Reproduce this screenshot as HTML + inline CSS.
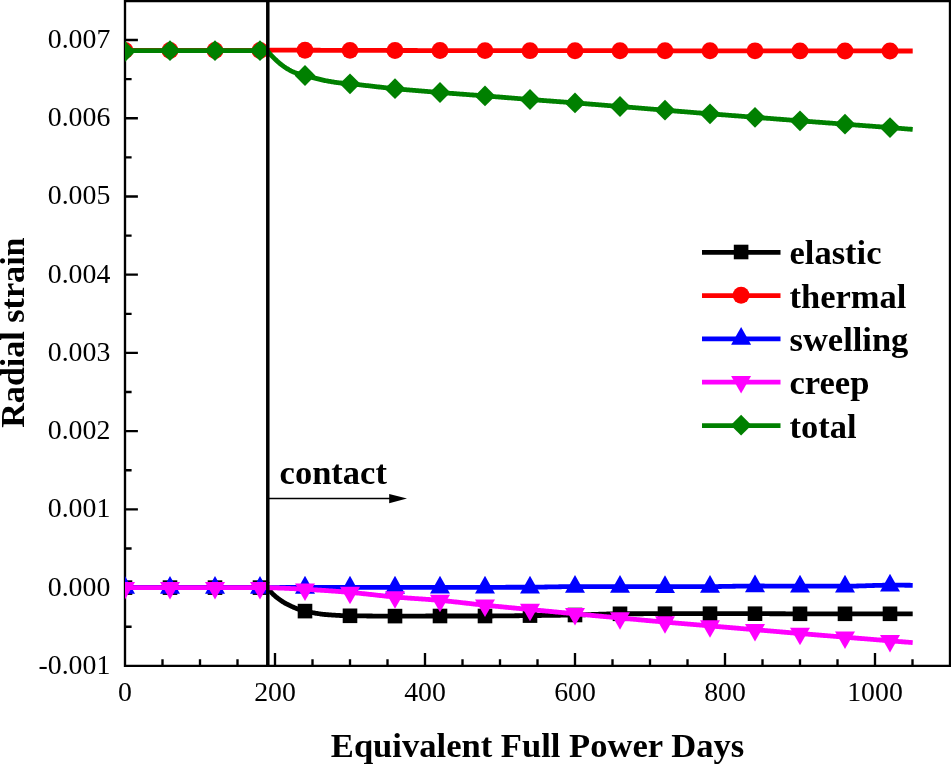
<!DOCTYPE html>
<html lang="en">
<head>
<meta charset="utf-8">
<title>Radial strain vs Equivalent Full Power Days</title>
<style>
html,body{margin:0;padding:0;background:#ffffff;}
body{width:951px;height:764px;overflow:hidden;}
svg{display:block;}
</style>
</head>
<body>
<svg width="951" height="764" viewBox="0 0 951 764">
<rect x="0" y="0" width="951" height="764" fill="#ffffff"/>
<defs><clipPath id="plotclip"><rect x="125" y="0" width="825" height="665.85"/></clipPath></defs>
<g fill="none" stroke="#000000" stroke-width="2.35" stroke-linecap="butt">
<path d="M125 1.15 L950 1.15 L950 665.85 L125 665.85 Z" stroke-linejoin="miter"/>
<path d="M162.5 665.85 V659.25 M200 665.85 V659.25 M237.5 665.85 V659.25 M275 665.85 V652.95 M312.5 665.85 V659.25 M350 665.85 V659.25 M387.5 665.85 V659.25 M425 665.85 V652.95 M462.5 665.85 V659.25 M500 665.85 V659.25 M537.5 665.85 V659.25 M575 665.85 V652.95 M612.5 665.85 V659.25 M650 665.85 V659.25 M687.5 665.85 V659.25 M725 665.85 V652.95 M762.5 665.85 V659.25 M800 665.85 V659.25 M837.5 665.85 V659.25 M875 665.85 V652.95 M912.5 665.85 V659.25 M125 626.73 H131.6 M125 587.61 H137.9 M125 548.5 H131.6 M125 509.38 H137.9 M125 470.27 H131.6 M125 431.15 H137.9 M125 392.04 H131.6 M125 352.92 H137.9 M125 313.81 H131.6 M125 274.69 H137.9 M125 235.57 H131.6 M125 196.46 H137.9 M125 157.35 H131.6 M125 118.23 H137.9 M125 79.11 H131.6 M125 40 H137.9"/>
</g>
<line x1="268" y1="498.6" x2="392" y2="498.6" stroke="#000" stroke-width="1.5"/>
<path d="M407 498.6 L389.2 494 L389.2 503.2 Z" fill="#000"/>
<g clip-path="url(#plotclip)">
<path d="M125 587.61 L126 587.61 L127 587.61 L128 587.61 L129 587.61 L130 587.61 L131 587.61 L132 587.61 L133 587.61 L134 587.61 L135 587.61 L136 587.61 L137 587.61 L138 587.61 L139 587.61 L140 587.61 L141 587.61 L142 587.61 L143 587.61 L144 587.61 L145 587.61 L146 587.61 L147 587.61 L148 587.61 L149 587.61 L150 587.61 L151 587.61 L152 587.61 L153 587.61 L154 587.61 L155 587.61 L156 587.61 L157 587.61 L158 587.61 L159 587.61 L160 587.61 L161 587.61 L162 587.61 L163 587.61 L164 587.61 L165 587.61 L166 587.61 L167 587.61 L168 587.61 L169 587.61 L170 587.61 L171 587.61 L172 587.61 L173 587.61 L174 587.61 L175 587.61 L176 587.61 L177 587.61 L178 587.61 L179 587.61 L180 587.61 L181 587.61 L182 587.61 L183 587.61 L184 587.61 L185 587.61 L186 587.61 L187 587.61 L188 587.61 L189 587.61 L190 587.61 L191 587.61 L192 587.61 L193 587.61 L194 587.61 L195 587.61 L196 587.61 L197 587.61 L198 587.61 L199 587.61 L200 587.61 L201 587.61 L202 587.61 L203 587.61 L204 587.61 L205 587.61 L206 587.61 L207 587.61 L208 587.61 L209 587.61 L210 587.61 L211 587.61 L212 587.61 L213 587.61 L214 587.61 L215 587.61 L216 587.61 L217 587.61 L218 587.61 L219 587.61 L220 587.61 L221 587.61 L222 587.61 L223 587.61 L224 587.61 L225 587.61 L226 587.61 L227 587.61 L228 587.61 L229 587.61 L230 587.61 L231 587.61 L232 587.61 L233 587.61 L234 587.61 L235 587.61 L236 587.61 L237 587.61 L238 587.61 L239 587.61 L240 587.61 L241 587.61 L242 587.61 L243 587.61 L244 587.61 L245 587.61 L246 587.61 L247 587.61 L248 587.61 L249 587.61 L250 587.61 L251 587.61 L252 587.61 L253 587.61 L254 587.61 L255 587.61 L256 587.61 L257 587.61 L258 587.61 L259 587.61 L259.6 587.61 L260 587.61 L261 587.61 L262 587.61 L263 587.61 L264 587.61 L265 587.61 L266 587.61 L267 587.61 L268 588.75 L269 589.87 L269.3 590.2 L270 590.97 L271 592.06 L272 593.14 L273 594.15 L273.8 594.9 L274 595.08 L275 595.95 L276 596.8 L277 597.61 L278 598.4 L279 599.15 L280 599.88 L281 600.58 L282 601.24 L283 601.88 L283.2 602 L284 602.48 L285 603.06 L286 603.62 L287 604.15 L288 604.67 L289 605.17 L290 605.65 L291 606.12 L292 606.58 L292.7 606.9 L293 607.03 L294 607.47 L295 607.9 L296 608.31 L297 608.7 L298 609.06 L298.4 609.2 L299 609.4 L300 609.73 L301 610.04 L302 610.34 L303 610.61 L304 610.87 L305 611.1 L306 611.32 L307 611.53 L308 611.74 L309 611.95 L310 612.15 L311 612.35 L312 612.55 L313 612.74 L314 612.92 L315 613.1 L316 613.27 L317 613.44 L318 613.6 L319 613.75 L320 613.9 L321 614.04 L322 614.17 L323 614.29 L324 614.4 L325 614.5 L326 614.59 L327 614.68 L327.3 614.7 L328 614.75 L329 614.82 L330 614.9 L331 614.97 L332 615.03 L333 615.1 L334 615.16 L335 615.22 L336 615.28 L337 615.34 L338 615.39 L339 615.44 L340 615.49 L341 615.54 L342 615.58 L343 615.62 L344 615.66 L345 615.69 L346 615.72 L347 615.74 L348 615.77 L349 615.79 L350 615.8 L351 615.81 L352 615.83 L353 615.84 L354 615.85 L355 615.86 L356 615.87 L357 615.88 L358 615.89 L359 615.9 L360 615.92 L361 615.93 L362 615.94 L363 615.94 L364 615.95 L365 615.96 L366 615.97 L367 615.98 L368 615.99 L369 616 L370 616 L371 616.01 L372 616.02 L373 616.03 L374 616.03 L375 616.04 L376 616.04 L377 616.05 L378 616.05 L379 616.06 L380 616.06 L381 616.07 L382 616.07 L383 616.08 L384 616.08 L385 616.08 L386 616.09 L387 616.09 L388 616.09 L389 616.09 L390 616.1 L391 616.1 L392 616.1 L393 616.1 L394 616.1 L395 616.1 L396 616.1 L397 616.1 L398 616.1 L399 616.1 L400 616.1 L401 616.1 L402 616.09 L403 616.09 L404 616.09 L405 616.09 L406 616.08 L407 616.08 L408 616.08 L409 616.08 L410 616.07 L411 616.07 L412 616.07 L413 616.06 L414 616.06 L415 616.06 L416 616.05 L417 616.05 L418 616.05 L419 616.05 L420 616.04 L421 616.04 L422 616.04 L423 616.03 L424 616.03 L425 616.03 L426 616.02 L427 616.02 L428 616.02 L429 616.02 L430 616.01 L431 616.01 L432 616.01 L433 616.01 L434 616 L435 616 L436 616 L437 616 L438 616 L439 616 L440 616 L441 616 L442 616 L443 616 L444 616 L445 616 L446 616 L447 616 L448 616 L449 616 L450 616 L451 616 L452 616 L453 616 L454 616 L455 616 L456 616 L457 616 L458 616 L459 616 L460 616 L461 616 L462 616 L463 616 L464 616 L465 616 L466 616 L467 616 L468 616 L469 616 L470 616 L471 616 L472 616 L473 616 L474 616 L475 616 L476 616 L477 616 L478 616 L479 616 L480 616 L481 616 L482 616 L483 616 L484 616 L485 616 L486 616 L487 616 L488 616 L489 615.99 L490 615.99 L491 615.99 L492 615.98 L493 615.98 L494 615.97 L495 615.97 L496 615.96 L497 615.95 L498 615.95 L499 615.94 L500 615.93 L501 615.92 L502 615.91 L503 615.91 L504 615.9 L505 615.89 L506 615.88 L507 615.87 L508 615.85 L509 615.84 L510 615.83 L511 615.82 L512 615.81 L513 615.8 L514 615.79 L515 615.77 L516 615.76 L517 615.75 L518 615.74 L519 615.73 L520 615.72 L521 615.7 L522 615.69 L523 615.68 L524 615.67 L525 615.66 L526 615.64 L527 615.63 L528 615.62 L529 615.61 L530 615.6 L531 615.59 L532 615.58 L533 615.57 L534 615.56 L535 615.55 L536 615.54 L537 615.52 L538 615.51 L539 615.5 L540 615.49 L541 615.48 L542 615.47 L543 615.46 L544 615.44 L545 615.43 L546 615.42 L547 615.41 L548 615.4 L549 615.38 L550 615.37 L551 615.36 L552 615.35 L553 615.33 L554 615.32 L555 615.31 L556 615.29 L557 615.28 L558 615.27 L559 615.25 L560 615.24 L561 615.22 L562 615.21 L563 615.19 L564 615.18 L565 615.16 L566 615.15 L567 615.13 L568 615.12 L569 615.1 L570 615.09 L571 615.07 L572 615.05 L573 615.04 L574 615.02 L575 615 L576 614.98 L577 614.96 L578 614.94 L579 614.92 L580 614.89 L581 614.86 L582 614.84 L583 614.81 L584 614.78 L585 614.75 L586 614.72 L587 614.68 L588 614.65 L589 614.62 L590 614.58 L591 614.55 L592 614.52 L593 614.48 L594 614.45 L595 614.41 L596 614.38 L597 614.34 L598 614.31 L599 614.27 L600 614.24 L601 614.2 L602 614.17 L603 614.14 L604 614.11 L605 614.08 L606 614.05 L607 614.02 L608 614 L609 613.97 L610 613.95 L611 613.92 L612 613.9 L613 613.88 L614 613.86 L615 613.85 L616 613.83 L617 613.82 L618 613.81 L619 613.81 L620 613.8 L621 613.8 L622 613.79 L623 613.79 L624 613.78 L625 613.78 L626 613.78 L627 613.77 L628 613.77 L629 613.77 L630 613.76 L631 613.76 L632 613.76 L633 613.75 L634 613.75 L635 613.75 L636 613.74 L637 613.74 L638 613.74 L639 613.74 L640 613.73 L641 613.73 L642 613.73 L643 613.73 L644 613.72 L645 613.72 L646 613.72 L647 613.72 L648 613.72 L649 613.71 L650 613.71 L651 613.71 L652 613.71 L653 613.71 L654 613.71 L655 613.71 L656 613.7 L657 613.7 L658 613.7 L659 613.7 L660 613.7 L661 613.7 L662 613.7 L663 613.7 L664 613.7 L665 613.7 L666 613.7 L667 613.7 L668 613.7 L669 613.7 L670 613.7 L671 613.7 L672 613.7 L673 613.7 L674 613.7 L675 613.7 L676 613.7 L677 613.7 L678 613.7 L679 613.7 L680 613.7 L681 613.7 L682 613.7 L683 613.7 L684 613.7 L685 613.7 L686 613.7 L687 613.7 L688 613.7 L689 613.7 L690 613.7 L691 613.7 L692 613.7 L693 613.7 L694 613.7 L695 613.7 L696 613.7 L697 613.7 L698 613.7 L699 613.7 L700 613.7 L701 613.7 L702 613.7 L703 613.7 L704 613.7 L705 613.7 L706 613.7 L707 613.7 L708 613.7 L709 613.7 L710 613.7 L711 613.7 L712 613.7 L713 613.7 L714 613.7 L715 613.7 L716 613.7 L717 613.7 L718 613.7 L719 613.7 L720 613.7 L721 613.7 L722 613.7 L723 613.7 L724 613.7 L725 613.7 L726 613.7 L727 613.7 L728 613.7 L729 613.7 L730 613.7 L731 613.7 L732 613.7 L733 613.7 L734 613.7 L735 613.7 L736 613.7 L737 613.7 L738 613.7 L739 613.7 L740 613.7 L741 613.7 L742 613.7 L743 613.7 L744 613.7 L745 613.7 L746 613.7 L747 613.7 L748 613.7 L749 613.7 L750 613.7 L751 613.7 L752 613.7 L753 613.7 L754 613.7 L755 613.7 L756 613.7 L757 613.7 L758 613.7 L759 613.7 L760 613.7 L761 613.7 L762 613.71 L763 613.71 L764 613.71 L765 613.71 L766 613.72 L767 613.72 L768 613.72 L769 613.72 L770 613.73 L771 613.73 L772 613.73 L773 613.74 L774 613.74 L775 613.74 L776 613.75 L777 613.75 L778 613.75 L779 613.75 L780 613.76 L781 613.76 L782 613.76 L783 613.77 L784 613.77 L785 613.77 L786 613.78 L787 613.78 L788 613.78 L789 613.78 L790 613.79 L791 613.79 L792 613.79 L793 613.79 L794 613.8 L795 613.8 L796 613.8 L797 613.8 L798 613.8 L799 613.8 L800 613.8 L801 613.8 L802 613.8 L803 613.8 L804 613.8 L805 613.8 L806 613.8 L807 613.8 L808 613.8 L809 613.8 L810 613.8 L811 613.8 L812 613.8 L813 613.8 L814 613.8 L815 613.8 L816 613.8 L817 613.8 L818 613.8 L819 613.8 L820 613.8 L821 613.8 L822 613.8 L823 613.8 L824 613.8 L825 613.8 L826 613.8 L827 613.8 L828 613.8 L829 613.8 L830 613.8 L831 613.8 L832 613.8 L833 613.8 L834 613.8 L835 613.8 L836 613.8 L837 613.8 L838 613.8 L839 613.8 L840 613.8 L841 613.8 L842 613.8 L843 613.8 L844 613.8 L845 613.8 L846 613.8 L847 613.8 L848 613.8 L849 613.8 L850 613.8 L851 613.8 L852 613.8 L853 613.8 L854 613.8 L855 613.8 L856 613.8 L857 613.8 L858 613.8 L859 613.8 L860 613.8 L861 613.8 L862 613.8 L863 613.8 L864 613.8 L865 613.8 L866 613.8 L867 613.8 L868 613.8 L869 613.8 L870 613.8 L871 613.8 L872 613.8 L873 613.8 L874 613.8 L875 613.8 L876 613.8 L877 613.8 L878 613.8 L879 613.8 L880 613.8 L881 613.8 L882 613.8 L883 613.8 L884 613.8 L885 613.8 L886 613.8 L887 613.8 L888 613.8 L889 613.8 L890 613.8 L891 613.8 L892 613.8 L893 613.8 L894 613.8 L895 613.8 L896 613.8 L897 613.8 L898 613.8 L899 613.8 L900 613.8 L901 613.8 L902 613.8 L903 613.8 L904 613.8 L905 613.8 L906 613.8 L907 613.8 L908 613.8 L909 613.8 L910 613.8 L911 613.8 L912 613.8 L912.7 613.8" fill="none" stroke="#000000" stroke-width="4.8" stroke-linejoin="round"/>
<g fill="#000000">
<rect x="117.7" y="580.31" width="14.6" height="14.6"/>
<rect x="162.7" y="580.31" width="14.6" height="14.6"/>
<rect x="207.7" y="580.31" width="14.6" height="14.6"/>
<rect x="252.7" y="580.31" width="14.6" height="14.6"/>
<rect x="297.7" y="603.8" width="14.6" height="14.6"/>
<rect x="342.7" y="608.5" width="14.6" height="14.6"/>
<rect x="387.7" y="608.8" width="14.6" height="14.6"/>
<rect x="432.7" y="608.7" width="14.6" height="14.6"/>
<rect x="477.7" y="608.7" width="14.6" height="14.6"/>
<rect x="522.7" y="608.3" width="14.6" height="14.6"/>
<rect x="567.7" y="607.7" width="14.6" height="14.6"/>
<rect x="612.7" y="606.5" width="14.6" height="14.6"/>
<rect x="657.7" y="606.4" width="14.6" height="14.6"/>
<rect x="702.7" y="606.4" width="14.6" height="14.6"/>
<rect x="747.7" y="606.4" width="14.6" height="14.6"/>
<rect x="792.7" y="606.5" width="14.6" height="14.6"/>
<rect x="837.7" y="606.5" width="14.6" height="14.6"/>
<rect x="882.7" y="606.5" width="14.6" height="14.6"/>
</g>
<path d="M125 50.5 L126 50.5 L127 50.5 L128 50.5 L129 50.5 L130 50.5 L131 50.5 L132 50.5 L133 50.5 L134 50.5 L135 50.5 L136 50.5 L137 50.5 L138 50.5 L139 50.5 L140 50.5 L141 50.5 L142 50.5 L143 50.5 L144 50.5 L145 50.5 L146 50.5 L147 50.5 L148 50.5 L149 50.5 L150 50.5 L151 50.5 L152 50.5 L153 50.5 L154 50.5 L155 50.5 L156 50.5 L157 50.5 L158 50.5 L159 50.5 L160 50.5 L161 50.5 L162 50.5 L163 50.5 L164 50.5 L165 50.5 L166 50.5 L167 50.5 L168 50.5 L169 50.5 L170 50.5 L171 50.5 L172 50.5 L173 50.5 L174 50.5 L175 50.5 L176 50.5 L177 50.5 L178 50.5 L179 50.5 L180 50.5 L181 50.5 L182 50.5 L183 50.5 L184 50.5 L185 50.5 L186 50.5 L187 50.5 L188 50.5 L189 50.5 L190 50.5 L191 50.5 L192 50.5 L193 50.5 L194 50.5 L195 50.5 L196 50.5 L197 50.5 L198 50.5 L199 50.5 L200 50.5 L201 50.5 L202 50.5 L203 50.5 L204 50.5 L205 50.5 L206 50.5 L207 50.5 L208 50.5 L209 50.5 L210 50.5 L211 50.5 L212 50.5 L213 50.5 L214 50.5 L215 50.5 L216 50.5 L217 50.5 L218 50.5 L219 50.5 L220 50.5 L221 50.5 L222 50.5 L223 50.5 L224 50.5 L225 50.5 L226 50.5 L227 50.5 L228 50.5 L229 50.5 L230 50.5 L231 50.5 L232 50.5 L233 50.5 L234 50.5 L235 50.5 L236 50.5 L237 50.5 L238 50.5 L239 50.5 L240 50.5 L241 50.5 L242 50.5 L243 50.5 L244 50.5 L245 50.5 L246 50.5 L247 50.5 L248 50.5 L249 50.5 L250 50.5 L251 50.5 L252 50.5 L253 50.5 L254 50.5 L255 50.5 L256 50.5 L257 50.5 L258 50.5 L259 50.5 L259.6 50.5 L260 50.5 L261 50.49 L262 50.48 L263 50.46 L264 50.44 L265 50.42 L266 50.39 L267 50.36 L268 50.33 L269 50.3 L270 50.27 L271 50.25 L272 50.23 L273 50.21 L274 50.2 L275 50.2 L276 50.2 L277 50.2 L278 50.2 L279 50.2 L280 50.2 L281 50.2 L282 50.2 L283 50.2 L284 50.2 L285 50.2 L286 50.21 L287 50.21 L288 50.21 L289 50.21 L290 50.21 L291 50.21 L292 50.21 L293 50.21 L294 50.22 L295 50.22 L296 50.22 L297 50.22 L298 50.22 L299 50.22 L300 50.23 L301 50.23 L302 50.23 L303 50.23 L304 50.23 L305 50.24 L306 50.24 L307 50.24 L308 50.24 L309 50.24 L310 50.25 L311 50.25 L312 50.25 L313 50.25 L314 50.26 L315 50.26 L316 50.26 L317 50.26 L318 50.27 L319 50.27 L320 50.27 L321 50.28 L322 50.28 L323 50.28 L324 50.28 L325 50.29 L326 50.29 L327 50.29 L328 50.3 L329 50.3 L330 50.3 L331 50.31 L332 50.31 L333 50.31 L334 50.32 L335 50.32 L336 50.32 L337 50.33 L338 50.33 L339 50.33 L340 50.33 L341 50.34 L342 50.34 L343 50.34 L344 50.35 L345 50.35 L346 50.35 L347 50.36 L348 50.36 L349 50.36 L350 50.37 L351 50.37 L352 50.37 L353 50.38 L354 50.38 L355 50.38 L356 50.39 L357 50.39 L358 50.39 L359 50.4 L360 50.4 L361 50.4 L362 50.41 L363 50.41 L364 50.41 L365 50.42 L366 50.42 L367 50.42 L368 50.42 L369 50.43 L370 50.43 L371 50.43 L372 50.44 L373 50.44 L374 50.44 L375 50.44 L376 50.45 L377 50.45 L378 50.45 L379 50.46 L380 50.46 L381 50.46 L382 50.46 L383 50.47 L384 50.47 L385 50.47 L386 50.47 L387 50.48 L388 50.48 L389 50.48 L390 50.48 L391 50.48 L392 50.49 L393 50.49 L394 50.49 L395 50.49 L396 50.49 L397 50.5 L398 50.5 L399 50.5 L400 50.5 L401 50.5 L402 50.5 L403 50.5 L404 50.51 L405 50.51 L406 50.51 L407 50.51 L408 50.51 L409 50.51 L410 50.51 L411 50.52 L412 50.52 L413 50.52 L414 50.52 L415 50.52 L416 50.52 L417 50.52 L418 50.53 L419 50.53 L420 50.53 L421 50.53 L422 50.53 L423 50.53 L424 50.53 L425 50.54 L426 50.54 L427 50.54 L428 50.54 L429 50.54 L430 50.54 L431 50.54 L432 50.54 L433 50.55 L434 50.55 L435 50.55 L436 50.55 L437 50.55 L438 50.55 L439 50.55 L440 50.56 L441 50.56 L442 50.56 L443 50.56 L444 50.56 L445 50.56 L446 50.56 L447 50.56 L448 50.57 L449 50.57 L450 50.57 L451 50.57 L452 50.57 L453 50.57 L454 50.57 L455 50.57 L456 50.57 L457 50.58 L458 50.58 L459 50.58 L460 50.58 L461 50.58 L462 50.58 L463 50.58 L464 50.58 L465 50.59 L466 50.59 L467 50.59 L468 50.59 L469 50.59 L470 50.59 L471 50.59 L472 50.59 L473 50.59 L474 50.6 L475 50.6 L476 50.6 L477 50.6 L478 50.6 L479 50.6 L480 50.6 L481 50.6 L482 50.6 L483 50.61 L484 50.61 L485 50.61 L486 50.61 L487 50.61 L488 50.61 L489 50.61 L490 50.61 L491 50.61 L492 50.61 L493 50.62 L494 50.62 L495 50.62 L496 50.62 L497 50.62 L498 50.62 L499 50.62 L500 50.62 L501 50.62 L502 50.62 L503 50.63 L504 50.63 L505 50.63 L506 50.63 L507 50.63 L508 50.63 L509 50.63 L510 50.63 L511 50.63 L512 50.63 L513 50.64 L514 50.64 L515 50.64 L516 50.64 L517 50.64 L518 50.64 L519 50.64 L520 50.64 L521 50.64 L522 50.64 L523 50.65 L524 50.65 L525 50.65 L526 50.65 L527 50.65 L528 50.65 L529 50.65 L530 50.65 L531 50.65 L532 50.65 L533 50.65 L534 50.66 L535 50.66 L536 50.66 L537 50.66 L538 50.66 L539 50.66 L540 50.66 L541 50.66 L542 50.66 L543 50.66 L544 50.66 L545 50.67 L546 50.67 L547 50.67 L548 50.67 L549 50.67 L550 50.67 L551 50.67 L552 50.67 L553 50.67 L554 50.67 L555 50.67 L556 50.68 L557 50.68 L558 50.68 L559 50.68 L560 50.68 L561 50.68 L562 50.68 L563 50.68 L564 50.68 L565 50.68 L566 50.68 L567 50.68 L568 50.69 L569 50.69 L570 50.69 L571 50.69 L572 50.69 L573 50.69 L574 50.69 L575 50.69 L576 50.69 L577 50.69 L578 50.69 L579 50.69 L580 50.7 L581 50.7 L582 50.7 L583 50.7 L584 50.7 L585 50.7 L586 50.7 L587 50.7 L588 50.7 L589 50.7 L590 50.7 L591 50.7 L592 50.71 L593 50.71 L594 50.71 L595 50.71 L596 50.71 L597 50.71 L598 50.71 L599 50.71 L600 50.71 L601 50.71 L602 50.71 L603 50.71 L604 50.72 L605 50.72 L606 50.72 L607 50.72 L608 50.72 L609 50.72 L610 50.72 L611 50.72 L612 50.72 L613 50.72 L614 50.72 L615 50.72 L616 50.73 L617 50.73 L618 50.73 L619 50.73 L620 50.73 L621 50.73 L622 50.73 L623 50.73 L624 50.73 L625 50.73 L626 50.73 L627 50.74 L628 50.74 L629 50.74 L630 50.74 L631 50.74 L632 50.74 L633 50.74 L634 50.74 L635 50.74 L636 50.74 L637 50.74 L638 50.74 L639 50.75 L640 50.75 L641 50.75 L642 50.75 L643 50.75 L644 50.75 L645 50.75 L646 50.75 L647 50.75 L648 50.75 L649 50.75 L650 50.75 L651 50.76 L652 50.76 L653 50.76 L654 50.76 L655 50.76 L656 50.76 L657 50.76 L658 50.76 L659 50.76 L660 50.76 L661 50.76 L662 50.77 L663 50.77 L664 50.77 L665 50.77 L666 50.77 L667 50.77 L668 50.77 L669 50.77 L670 50.77 L671 50.77 L672 50.77 L673 50.77 L674 50.78 L675 50.78 L676 50.78 L677 50.78 L678 50.78 L679 50.78 L680 50.78 L681 50.78 L682 50.78 L683 50.78 L684 50.78 L685 50.79 L686 50.79 L687 50.79 L688 50.79 L689 50.79 L690 50.79 L691 50.79 L692 50.79 L693 50.79 L694 50.79 L695 50.8 L696 50.8 L697 50.8 L698 50.8 L699 50.8 L700 50.8 L701 50.8 L702 50.8 L703 50.8 L704 50.8 L705 50.8 L706 50.81 L707 50.81 L708 50.81 L709 50.81 L710 50.81 L711 50.81 L712 50.81 L713 50.81 L714 50.81 L715 50.81 L716 50.82 L717 50.82 L718 50.82 L719 50.82 L720 50.82 L721 50.82 L722 50.82 L723 50.82 L724 50.82 L725 50.82 L726 50.83 L727 50.83 L728 50.83 L729 50.83 L730 50.83 L731 50.83 L732 50.83 L733 50.83 L734 50.83 L735 50.83 L736 50.83 L737 50.84 L738 50.84 L739 50.84 L740 50.84 L741 50.84 L742 50.84 L743 50.84 L744 50.84 L745 50.84 L746 50.84 L747 50.85 L748 50.85 L749 50.85 L750 50.85 L751 50.85 L752 50.85 L753 50.85 L754 50.85 L755 50.85 L756 50.85 L757 50.85 L758 50.86 L759 50.86 L760 50.86 L761 50.86 L762 50.86 L763 50.86 L764 50.86 L765 50.86 L766 50.86 L767 50.86 L768 50.87 L769 50.87 L770 50.87 L771 50.87 L772 50.87 L773 50.87 L774 50.87 L775 50.87 L776 50.87 L777 50.87 L778 50.87 L779 50.88 L780 50.88 L781 50.88 L782 50.88 L783 50.88 L784 50.88 L785 50.88 L786 50.88 L787 50.88 L788 50.88 L789 50.89 L790 50.89 L791 50.89 L792 50.89 L793 50.89 L794 50.89 L795 50.89 L796 50.89 L797 50.89 L798 50.89 L799 50.89 L800 50.9 L801 50.9 L802 50.9 L803 50.9 L804 50.9 L805 50.9 L806 50.9 L807 50.9 L808 50.9 L809 50.9 L810 50.9 L811 50.91 L812 50.91 L813 50.91 L814 50.91 L815 50.91 L816 50.91 L817 50.91 L818 50.91 L819 50.91 L820 50.91 L821 50.92 L822 50.92 L823 50.92 L824 50.92 L825 50.92 L826 50.92 L827 50.92 L828 50.92 L829 50.92 L830 50.92 L831 50.92 L832 50.93 L833 50.93 L834 50.93 L835 50.93 L836 50.93 L837 50.93 L838 50.93 L839 50.93 L840 50.93 L841 50.93 L842 50.93 L843 50.94 L844 50.94 L845 50.94 L846 50.94 L847 50.94 L848 50.94 L849 50.94 L850 50.94 L851 50.94 L852 50.94 L853 50.94 L854 50.95 L855 50.95 L856 50.95 L857 50.95 L858 50.95 L859 50.95 L860 50.95 L861 50.95 L862 50.95 L863 50.95 L864 50.96 L865 50.96 L866 50.96 L867 50.96 L868 50.96 L869 50.96 L870 50.96 L871 50.96 L872 50.96 L873 50.96 L874 50.96 L875 50.97 L876 50.97 L877 50.97 L878 50.97 L879 50.97 L880 50.97 L881 50.97 L882 50.97 L883 50.97 L884 50.97 L885 50.97 L886 50.98 L887 50.98 L888 50.98 L889 50.98 L890 50.98 L891 50.98 L892 50.98 L893 50.98 L894 50.98 L895 50.98 L896 50.98 L897 50.99 L898 50.99 L899 50.99 L900 50.99 L901 50.99 L902 50.99 L903 50.99 L904 50.99 L905 50.99 L906 50.99 L907 50.99 L908 51 L909 51 L910 51 L911 51 L912 51 L912.7 51" fill="none" stroke="#ff0000" stroke-width="4.8" stroke-linejoin="round"/>
<g fill="#ff0000">
<circle cx="125" cy="50.5" r="8.45"/>
<circle cx="170" cy="50.5" r="8.45"/>
<circle cx="215" cy="50.5" r="8.45"/>
<circle cx="260" cy="50.5" r="8.45"/>
<circle cx="305" cy="50.24" r="8.45"/>
<circle cx="350" cy="50.37" r="8.45"/>
<circle cx="395" cy="50.49" r="8.45"/>
<circle cx="440" cy="50.56" r="8.45"/>
<circle cx="485" cy="50.61" r="8.45"/>
<circle cx="530" cy="50.65" r="8.45"/>
<circle cx="575" cy="50.69" r="8.45"/>
<circle cx="620" cy="50.73" r="8.45"/>
<circle cx="665" cy="50.77" r="8.45"/>
<circle cx="710" cy="50.81" r="8.45"/>
<circle cx="755" cy="50.85" r="8.45"/>
<circle cx="800" cy="50.9" r="8.45"/>
<circle cx="845" cy="50.94" r="8.45"/>
<circle cx="890" cy="50.98" r="8.45"/>
</g>
<path d="M125 587.61 L126 587.61 L127 587.61 L128 587.61 L129 587.61 L130 587.61 L131 587.61 L132 587.61 L133 587.61 L134 587.61 L135 587.61 L136 587.61 L137 587.61 L138 587.61 L139 587.61 L140 587.61 L141 587.61 L142 587.61 L143 587.61 L144 587.61 L145 587.61 L146 587.61 L147 587.61 L148 587.61 L149 587.61 L150 587.61 L151 587.61 L152 587.61 L153 587.61 L154 587.61 L155 587.61 L156 587.61 L157 587.61 L158 587.61 L159 587.61 L160 587.61 L161 587.61 L162 587.61 L163 587.61 L164 587.61 L165 587.61 L166 587.61 L167 587.61 L168 587.61 L169 587.61 L170 587.61 L171 587.61 L172 587.61 L173 587.61 L174 587.61 L175 587.61 L176 587.61 L177 587.61 L178 587.61 L179 587.61 L180 587.61 L181 587.61 L182 587.61 L183 587.61 L184 587.61 L185 587.61 L186 587.61 L187 587.61 L188 587.61 L189 587.61 L190 587.61 L191 587.61 L192 587.61 L193 587.61 L194 587.61 L195 587.61 L196 587.61 L197 587.61 L198 587.61 L199 587.61 L200 587.61 L201 587.61 L202 587.61 L203 587.61 L204 587.61 L205 587.61 L206 587.61 L207 587.61 L208 587.61 L209 587.61 L210 587.61 L211 587.61 L212 587.61 L213 587.61 L214 587.61 L215 587.61 L216 587.61 L217 587.61 L218 587.61 L219 587.61 L220 587.61 L221 587.61 L222 587.61 L223 587.61 L224 587.61 L225 587.61 L226 587.61 L227 587.61 L228 587.61 L229 587.61 L230 587.61 L231 587.61 L232 587.61 L233 587.61 L234 587.61 L235 587.61 L236 587.61 L237 587.61 L238 587.61 L239 587.61 L240 587.61 L241 587.61 L242 587.61 L243 587.61 L244 587.61 L245 587.61 L246 587.61 L247 587.61 L248 587.61 L249 587.61 L250 587.61 L251 587.61 L252 587.61 L253 587.61 L254 587.61 L255 587.61 L256 587.61 L257 587.61 L258 587.61 L259 587.61 L259.6 587.61 L260 587.61 L261 587.61 L262 587.61 L263 587.61 L264 587.6 L265 587.6 L266 587.6 L267 587.6 L268 587.59 L269 587.59 L270 587.58 L271 587.58 L272 587.57 L273 587.57 L274 587.56 L275 587.55 L276 587.55 L277 587.54 L278 587.53 L279 587.53 L280 587.52 L281 587.51 L282 587.51 L283 587.5 L284 587.49 L285 587.49 L286 587.48 L287 587.47 L288 587.47 L289 587.46 L290 587.45 L291 587.45 L292 587.44 L293 587.44 L294 587.43 L295 587.43 L296 587.42 L297 587.42 L298 587.41 L299 587.41 L300 587.41 L301 587.4 L302 587.4 L303 587.4 L304 587.4 L305 587.4 L306 587.4 L307 587.4 L308 587.4 L309 587.4 L310 587.4 L311 587.4 L312 587.4 L313 587.4 L314 587.4 L315 587.4 L316 587.4 L317 587.4 L318 587.4 L319 587.4 L320 587.4 L321 587.4 L322 587.4 L323 587.4 L324 587.4 L325 587.4 L326 587.4 L327 587.4 L328 587.4 L329 587.4 L330 587.4 L331 587.4 L332 587.4 L333 587.4 L334 587.4 L335 587.4 L336 587.4 L337 587.4 L338 587.4 L339 587.4 L340 587.4 L341 587.4 L342 587.4 L343 587.4 L344 587.4 L345 587.4 L346 587.4 L347 587.4 L348 587.4 L349 587.4 L350 587.4 L351 587.4 L352 587.4 L353 587.4 L354 587.4 L355 587.4 L356 587.4 L357 587.4 L358 587.4 L359 587.4 L360 587.4 L361 587.4 L362 587.4 L363 587.4 L364 587.4 L365 587.4 L366 587.4 L367 587.4 L368 587.4 L369 587.4 L370 587.4 L371 587.4 L372 587.4 L373 587.4 L374 587.4 L375 587.4 L376 587.4 L377 587.4 L378 587.4 L379 587.4 L380 587.4 L381 587.4 L382 587.4 L383 587.4 L384 587.4 L385 587.4 L386 587.4 L387 587.4 L388 587.4 L389 587.4 L390 587.4 L391 587.4 L392 587.4 L393 587.4 L394 587.4 L395 587.4 L396 587.4 L397 587.4 L398 587.4 L399 587.4 L400 587.4 L401 587.4 L402 587.39 L403 587.39 L404 587.39 L405 587.39 L406 587.38 L407 587.38 L408 587.38 L409 587.38 L410 587.37 L411 587.37 L412 587.37 L413 587.36 L414 587.36 L415 587.36 L416 587.35 L417 587.35 L418 587.35 L419 587.35 L420 587.34 L421 587.34 L422 587.34 L423 587.33 L424 587.33 L425 587.33 L426 587.32 L427 587.32 L428 587.32 L429 587.32 L430 587.31 L431 587.31 L432 587.31 L433 587.31 L434 587.3 L435 587.3 L436 587.3 L437 587.3 L438 587.3 L439 587.3 L440 587.3 L441 587.3 L442 587.3 L443 587.3 L444 587.3 L445 587.3 L446 587.3 L447 587.3 L448 587.3 L449 587.3 L450 587.3 L451 587.3 L452 587.3 L453 587.3 L454 587.3 L455 587.3 L456 587.3 L457 587.3 L458 587.3 L459 587.3 L460 587.3 L461 587.3 L462 587.3 L463 587.3 L464 587.3 L465 587.3 L466 587.3 L467 587.3 L468 587.3 L469 587.3 L470 587.3 L471 587.3 L472 587.3 L473 587.3 L474 587.3 L475 587.3 L476 587.3 L477 587.3 L478 587.3 L479 587.3 L480 587.3 L481 587.3 L482 587.3 L483 587.3 L484 587.3 L485 587.3 L486 587.3 L487 587.3 L488 587.3 L489 587.3 L490 587.3 L491 587.3 L492 587.3 L493 587.3 L494 587.3 L495 587.29 L496 587.29 L497 587.29 L498 587.29 L499 587.29 L500 587.29 L501 587.29 L502 587.28 L503 587.28 L504 587.28 L505 587.28 L506 587.27 L507 587.27 L508 587.27 L509 587.27 L510 587.27 L511 587.26 L512 587.26 L513 587.26 L514 587.25 L515 587.25 L516 587.25 L517 587.25 L518 587.24 L519 587.24 L520 587.24 L521 587.23 L522 587.23 L523 587.23 L524 587.22 L525 587.22 L526 587.21 L527 587.21 L528 587.21 L529 587.2 L530 587.2 L531 587.2 L532 587.19 L533 587.18 L534 587.17 L535 587.16 L536 587.15 L537 587.14 L538 587.13 L539 587.12 L540 587.1 L541 587.09 L542 587.07 L543 587.05 L544 587.04 L545 587.02 L546 587 L547 586.98 L548 586.96 L549 586.95 L550 586.93 L551 586.91 L552 586.89 L553 586.87 L554 586.85 L555 586.83 L556 586.81 L557 586.79 L558 586.78 L559 586.76 L560 586.74 L561 586.73 L562 586.71 L563 586.7 L564 586.68 L565 586.67 L566 586.66 L567 586.65 L568 586.64 L569 586.63 L570 586.62 L571 586.61 L572 586.61 L573 586.6 L574 586.6 L575 586.6 L576 586.6 L577 586.6 L578 586.6 L579 586.6 L580 586.6 L581 586.6 L582 586.6 L583 586.6 L584 586.6 L585 586.6 L586 586.6 L587 586.6 L588 586.6 L589 586.6 L590 586.6 L591 586.6 L592 586.6 L593 586.6 L594 586.6 L595 586.6 L596 586.6 L597 586.6 L598 586.6 L599 586.6 L600 586.6 L601 586.6 L602 586.6 L603 586.6 L604 586.6 L605 586.6 L606 586.6 L607 586.6 L608 586.6 L609 586.6 L610 586.6 L611 586.6 L612 586.6 L613 586.6 L614 586.6 L615 586.6 L616 586.6 L617 586.6 L618 586.6 L619 586.6 L620 586.6 L621 586.6 L622 586.6 L623 586.6 L624 586.6 L625 586.6 L626 586.6 L627 586.61 L628 586.61 L629 586.61 L630 586.61 L631 586.62 L632 586.62 L633 586.62 L634 586.62 L635 586.63 L636 586.63 L637 586.63 L638 586.64 L639 586.64 L640 586.64 L641 586.65 L642 586.65 L643 586.65 L644 586.65 L645 586.66 L646 586.66 L647 586.66 L648 586.67 L649 586.67 L650 586.67 L651 586.68 L652 586.68 L653 586.68 L654 586.68 L655 586.69 L656 586.69 L657 586.69 L658 586.69 L659 586.7 L660 586.7 L661 586.7 L662 586.7 L663 586.7 L664 586.7 L665 586.7 L666 586.7 L667 586.7 L668 586.7 L669 586.7 L670 586.7 L671 586.7 L672 586.7 L673 586.7 L674 586.7 L675 586.69 L676 586.69 L677 586.69 L678 586.69 L679 586.69 L680 586.69 L681 586.69 L682 586.68 L683 586.68 L684 586.68 L685 586.68 L686 586.67 L687 586.67 L688 586.67 L689 586.67 L690 586.67 L691 586.66 L692 586.66 L693 586.66 L694 586.65 L695 586.65 L696 586.65 L697 586.65 L698 586.64 L699 586.64 L700 586.64 L701 586.63 L702 586.63 L703 586.63 L704 586.62 L705 586.62 L706 586.61 L707 586.61 L708 586.61 L709 586.6 L710 586.6 L711 586.6 L712 586.59 L713 586.58 L714 586.57 L715 586.56 L716 586.55 L717 586.54 L718 586.53 L719 586.52 L720 586.5 L721 586.49 L722 586.47 L723 586.45 L724 586.44 L725 586.42 L726 586.4 L727 586.38 L728 586.36 L729 586.35 L730 586.33 L731 586.31 L732 586.29 L733 586.27 L734 586.25 L735 586.23 L736 586.21 L737 586.19 L738 586.18 L739 586.16 L740 586.14 L741 586.13 L742 586.11 L743 586.1 L744 586.08 L745 586.07 L746 586.06 L747 586.05 L748 586.04 L749 586.03 L750 586.02 L751 586.01 L752 586.01 L753 586 L754 586 L755 586 L756 586 L757 586 L758 586 L759 586 L760 586.01 L761 586.01 L762 586.01 L763 586.02 L764 586.02 L765 586.03 L766 586.03 L767 586.04 L768 586.04 L769 586.05 L770 586.05 L771 586.06 L772 586.06 L773 586.07 L774 586.08 L775 586.08 L776 586.09 L777 586.1 L778 586.1 L779 586.11 L780 586.12 L781 586.12 L782 586.13 L783 586.14 L784 586.14 L785 586.15 L786 586.15 L787 586.16 L788 586.16 L789 586.17 L790 586.17 L791 586.18 L792 586.18 L793 586.19 L794 586.19 L795 586.19 L796 586.2 L797 586.2 L798 586.2 L799 586.2 L800 586.2 L801 586.2 L802 586.2 L803 586.2 L804 586.2 L805 586.2 L806 586.2 L807 586.2 L808 586.2 L809 586.2 L810 586.2 L811 586.2 L812 586.2 L813 586.2 L814 586.2 L815 586.2 L816 586.2 L817 586.2 L818 586.2 L819 586.2 L820 586.2 L821 586.2 L822 586.2 L823 586.2 L824 586.2 L825 586.2 L826 586.2 L827 586.2 L828 586.2 L829 586.2 L830 586.2 L831 586.2 L832 586.2 L833 586.2 L834 586.2 L835 586.2 L836 586.2 L837 586.2 L838 586.2 L839 586.2 L840 586.2 L841 586.2 L842 586.2 L843 586.2 L844 586.2 L845 586.2 L846 586.2 L847 586.19 L848 586.19 L849 586.18 L850 586.17 L851 586.15 L852 586.13 L853 586.12 L854 586.1 L855 586.07 L856 586.05 L857 586.02 L858 586 L859 585.97 L860 585.94 L861 585.91 L862 585.88 L863 585.85 L864 585.82 L865 585.78 L866 585.75 L867 585.72 L868 585.68 L869 585.65 L870 585.62 L871 585.58 L872 585.55 L873 585.52 L874 585.49 L875 585.46 L876 585.43 L877 585.4 L878 585.38 L879 585.35 L880 585.33 L881 585.3 L882 585.28 L883 585.27 L884 585.25 L885 585.23 L886 585.22 L887 585.21 L888 585.21 L889 585.2 L890 585.2 L891 585.2 L892 585.2 L893 585.2 L894 585.2 L895 585.2 L896 585.2 L897 585.2 L898 585.2 L899 585.21 L900 585.21 L901 585.21 L902 585.21 L903 585.22 L904 585.22 L905 585.23 L906 585.24 L907 585.24 L908 585.25 L909 585.26 L910 585.27 L911 585.28 L912 585.29 L912.7 585.3" fill="none" stroke="#0000ff" stroke-width="4.8" stroke-linejoin="round"/>
<g fill="#0000ff">
<path d="M125 576.04 L135 593.84 L115 593.84Z"/>
<path d="M170 576.04 L180 593.84 L160 593.84Z"/>
<path d="M215 576.04 L225 593.84 L205 593.84Z"/>
<path d="M260 576.04 L270 593.84 L250 593.84Z"/>
<path d="M305 575.83 L315 593.63 L295 593.63Z"/>
<path d="M350 575.83 L360 593.63 L340 593.63Z"/>
<path d="M395 575.83 L405 593.63 L385 593.63Z"/>
<path d="M440 575.73 L450 593.53 L430 593.53Z"/>
<path d="M485 575.73 L495 593.53 L475 593.53Z"/>
<path d="M530 575.63 L540 593.43 L520 593.43Z"/>
<path d="M575 575.03 L585 592.83 L565 592.83Z"/>
<path d="M620 575.03 L630 592.83 L610 592.83Z"/>
<path d="M665 575.13 L675 592.93 L655 592.93Z"/>
<path d="M710 575.03 L720 592.83 L700 592.83Z"/>
<path d="M755 574.43 L765 592.23 L745 592.23Z"/>
<path d="M800 574.63 L810 592.43 L790 592.43Z"/>
<path d="M845 574.63 L855 592.43 L835 592.43Z"/>
<path d="M890 573.63 L900 591.43 L880 591.43Z"/>
</g>
<path d="M125 587.61 L126 587.61 L127 587.61 L128 587.61 L129 587.61 L130 587.61 L131 587.61 L132 587.61 L133 587.61 L134 587.61 L135 587.61 L136 587.61 L137 587.61 L138 587.61 L139 587.61 L140 587.61 L141 587.61 L142 587.61 L143 587.61 L144 587.61 L145 587.61 L146 587.61 L147 587.61 L148 587.61 L149 587.61 L150 587.61 L151 587.61 L152 587.61 L153 587.61 L154 587.61 L155 587.61 L156 587.61 L157 587.61 L158 587.61 L159 587.61 L160 587.61 L161 587.61 L162 587.61 L163 587.61 L164 587.61 L165 587.61 L166 587.61 L167 587.61 L168 587.61 L169 587.61 L170 587.61 L171 587.61 L172 587.61 L173 587.61 L174 587.61 L175 587.61 L176 587.61 L177 587.61 L178 587.61 L179 587.61 L180 587.61 L181 587.61 L182 587.61 L183 587.61 L184 587.61 L185 587.61 L186 587.61 L187 587.61 L188 587.61 L189 587.61 L190 587.61 L191 587.61 L192 587.61 L193 587.61 L194 587.61 L195 587.61 L196 587.61 L197 587.61 L198 587.61 L199 587.61 L200 587.61 L201 587.61 L202 587.61 L203 587.61 L204 587.61 L205 587.61 L206 587.61 L207 587.61 L208 587.61 L209 587.61 L210 587.61 L211 587.61 L212 587.61 L213 587.61 L214 587.61 L215 587.61 L216 587.61 L217 587.61 L218 587.61 L219 587.61 L220 587.61 L221 587.61 L222 587.61 L223 587.61 L224 587.61 L225 587.61 L226 587.61 L227 587.61 L228 587.61 L229 587.61 L230 587.61 L231 587.61 L232 587.61 L233 587.61 L234 587.61 L235 587.61 L236 587.61 L237 587.61 L238 587.61 L239 587.61 L240 587.61 L241 587.61 L242 587.61 L243 587.61 L244 587.61 L245 587.61 L246 587.61 L247 587.61 L248 587.61 L249 587.61 L250 587.61 L251 587.61 L252 587.61 L253 587.61 L254 587.61 L255 587.61 L256 587.61 L257 587.61 L258 587.61 L259 587.61 L259.6 587.61 L260 587.61 L261 587.61 L262 587.62 L263 587.63 L264 587.65 L265 587.66 L266 587.68 L267 587.69 L268 587.71 L269 587.73 L270 587.75 L271 587.77 L272 587.79 L273 587.82 L274 587.85 L275 587.88 L276 587.91 L277 587.95 L278 587.98 L279 588.02 L280 588.06 L281 588.1 L282 588.14 L283 588.18 L284 588.22 L285 588.27 L286 588.32 L287 588.36 L288 588.41 L289 588.46 L290 588.51 L291 588.56 L292 588.61 L293 588.66 L294 588.71 L295 588.77 L296 588.82 L297 588.87 L298 588.93 L299 588.98 L300 589.03 L301 589.09 L302 589.14 L303 589.19 L304 589.25 L305 589.3 L306 589.35 L307 589.41 L308 589.46 L309 589.52 L310 589.57 L311 589.63 L312 589.69 L313 589.75 L314 589.81 L315 589.87 L316 589.93 L317 589.99 L318 590.05 L319 590.12 L320 590.18 L321 590.24 L322 590.31 L323 590.38 L324 590.44 L325 590.51 L326 590.58 L327 590.65 L328 590.72 L329 590.79 L330 590.86 L331 590.93 L332 591 L333 591.08 L334 591.15 L335 591.22 L336 591.3 L337 591.37 L338 591.45 L339 591.52 L340 591.6 L341 591.68 L342 591.76 L343 591.84 L344 591.91 L345 591.99 L346 592.07 L347 592.16 L348 592.24 L349 592.32 L350 592.4 L351 592.48 L352 592.57 L353 592.66 L354 592.75 L355 592.84 L356 592.93 L357 593.03 L358 593.13 L359 593.23 L360 593.33 L361 593.43 L362 593.53 L363 593.64 L364 593.74 L365 593.85 L366 593.96 L367 594.07 L368 594.18 L369 594.29 L370 594.4 L371 594.51 L372 594.62 L373 594.73 L374 594.84 L375 594.95 L376 595.06 L377 595.17 L378 595.28 L379 595.39 L380 595.5 L381 595.61 L382 595.72 L383 595.83 L384 595.93 L385 596.04 L386 596.14 L387 596.24 L388 596.34 L389 596.44 L390 596.54 L391 596.64 L392 596.73 L393 596.82 L394 596.91 L395 597 L396 597.09 L397 597.17 L398 597.25 L399 597.34 L400 597.42 L401 597.5 L402 597.57 L403 597.65 L404 597.73 L405 597.8 L406 597.88 L407 597.95 L408 598.02 L409 598.09 L410 598.17 L411 598.24 L412 598.31 L413 598.38 L414 598.45 L415 598.52 L416 598.59 L417 598.66 L418 598.73 L419 598.8 L420 598.87 L421 598.94 L422 599.01 L423 599.08 L424 599.15 L425 599.22 L426 599.29 L427 599.36 L428 599.44 L429 599.51 L430 599.59 L431 599.66 L432 599.74 L433 599.82 L434 599.9 L435 599.98 L436 600.06 L437 600.14 L438 600.23 L439 600.31 L440 600.4 L441 600.49 L442 600.58 L443 600.67 L444 600.77 L445 600.86 L446 600.96 L447 601.06 L448 601.16 L449 601.26 L450 601.37 L451 601.47 L452 601.58 L453 601.68 L454 601.79 L455 601.9 L456 602.01 L457 602.12 L458 602.23 L459 602.34 L460 602.45 L461 602.56 L462 602.67 L463 602.79 L464 602.9 L465 603.01 L466 603.13 L467 603.24 L468 603.35 L469 603.47 L470 603.58 L471 603.69 L472 603.8 L473 603.92 L474 604.03 L475 604.14 L476 604.25 L477 604.36 L478 604.47 L479 604.57 L480 604.68 L481 604.79 L482 604.89 L483 605 L484 605.1 L485 605.2 L486 605.3 L487 605.4 L488 605.5 L489 605.6 L490 605.7 L491 605.8 L492 605.9 L493 605.99 L494 606.09 L495 606.19 L496 606.28 L497 606.38 L498 606.48 L499 606.57 L500 606.67 L501 606.76 L502 606.86 L503 606.95 L504 607.05 L505 607.14 L506 607.24 L507 607.33 L508 607.43 L509 607.52 L510 607.61 L511 607.71 L512 607.8 L513 607.9 L514 607.99 L515 608.08 L516 608.18 L517 608.27 L518 608.37 L519 608.46 L520 608.55 L521 608.65 L522 608.74 L523 608.84 L524 608.93 L525 609.02 L526 609.12 L527 609.21 L528 609.31 L529 609.4 L530 609.5 L531 609.6 L532 609.69 L533 609.79 L534 609.88 L535 609.98 L536 610.07 L537 610.17 L538 610.27 L539 610.36 L540 610.46 L541 610.55 L542 610.65 L543 610.75 L544 610.84 L545 610.94 L546 611.03 L547 611.13 L548 611.22 L549 611.32 L550 611.42 L551 611.51 L552 611.61 L553 611.7 L554 611.8 L555 611.9 L556 611.99 L557 612.09 L558 612.18 L559 612.28 L560 612.37 L561 612.47 L562 612.57 L563 612.66 L564 612.76 L565 612.85 L566 612.95 L567 613.04 L568 613.14 L569 613.23 L570 613.33 L571 613.42 L572 613.52 L573 613.61 L574 613.71 L575 613.8 L576 613.89 L577 613.99 L578 614.08 L579 614.18 L580 614.27 L581 614.37 L582 614.46 L583 614.55 L584 614.65 L585 614.74 L586 614.84 L587 614.93 L588 615.02 L589 615.12 L590 615.21 L591 615.3 L592 615.4 L593 615.49 L594 615.59 L595 615.68 L596 615.77 L597 615.87 L598 615.96 L599 616.05 L600 616.15 L601 616.24 L602 616.33 L603 616.43 L604 616.52 L605 616.61 L606 616.7 L607 616.8 L608 616.89 L609 616.98 L610 617.08 L611 617.17 L612 617.26 L613 617.35 L614 617.45 L615 617.54 L616 617.63 L617 617.72 L618 617.82 L619 617.91 L620 618 L621 618.09 L622 618.18 L623 618.28 L624 618.37 L625 618.46 L626 618.55 L627 618.65 L628 618.74 L629 618.83 L630 618.92 L631 619.02 L632 619.11 L633 619.2 L634 619.29 L635 619.39 L636 619.48 L637 619.57 L638 619.66 L639 619.75 L640 619.85 L641 619.94 L642 620.03 L643 620.12 L644 620.21 L645 620.3 L646 620.4 L647 620.49 L648 620.58 L649 620.67 L650 620.76 L651 620.85 L652 620.94 L653 621.03 L654 621.12 L655 621.21 L656 621.3 L657 621.39 L658 621.48 L659 621.57 L660 621.66 L661 621.75 L662 621.84 L663 621.92 L664 622.01 L665 622.1 L666 622.19 L667 622.27 L668 622.36 L669 622.45 L670 622.53 L671 622.62 L672 622.71 L673 622.79 L674 622.88 L675 622.96 L676 623.05 L677 623.13 L678 623.22 L679 623.3 L680 623.39 L681 623.47 L682 623.56 L683 623.64 L684 623.72 L685 623.81 L686 623.89 L687 623.98 L688 624.06 L689 624.14 L690 624.23 L691 624.31 L692 624.39 L693 624.48 L694 624.56 L695 624.64 L696 624.73 L697 624.81 L698 624.89 L699 624.98 L700 625.06 L701 625.14 L702 625.23 L703 625.31 L704 625.4 L705 625.48 L706 625.56 L707 625.65 L708 625.73 L709 625.82 L710 625.9 L711 625.98 L712 626.07 L713 626.15 L714 626.24 L715 626.32 L716 626.41 L717 626.49 L718 626.58 L719 626.66 L720 626.74 L721 626.83 L722 626.91 L723 627 L724 627.08 L725 627.17 L726 627.25 L727 627.34 L728 627.42 L729 627.5 L730 627.59 L731 627.67 L732 627.76 L733 627.84 L734 627.93 L735 628.01 L736 628.1 L737 628.18 L738 628.26 L739 628.35 L740 628.43 L741 628.52 L742 628.6 L743 628.69 L744 628.77 L745 628.86 L746 628.94 L747 629.02 L748 629.11 L749 629.19 L750 629.28 L751 629.36 L752 629.45 L753 629.53 L754 629.62 L755 629.7 L756 629.78 L757 629.87 L758 629.95 L759 630.04 L760 630.12 L761 630.21 L762 630.29 L763 630.38 L764 630.46 L765 630.55 L766 630.63 L767 630.72 L768 630.8 L769 630.89 L770 630.97 L771 631.06 L772 631.14 L773 631.22 L774 631.31 L775 631.39 L776 631.48 L777 631.56 L778 631.65 L779 631.73 L780 631.82 L781 631.9 L782 631.99 L783 632.07 L784 632.16 L785 632.24 L786 632.33 L787 632.41 L788 632.49 L789 632.58 L790 632.66 L791 632.75 L792 632.83 L793 632.91 L794 633 L795 633.08 L796 633.17 L797 633.25 L798 633.33 L799 633.42 L800 633.5 L801 633.58 L802 633.67 L803 633.75 L804 633.83 L805 633.92 L806 634 L807 634.08 L808 634.17 L809 634.25 L810 634.33 L811 634.41 L812 634.5 L813 634.58 L814 634.66 L815 634.74 L816 634.83 L817 634.91 L818 634.99 L819 635.07 L820 635.16 L821 635.24 L822 635.32 L823 635.4 L824 635.49 L825 635.57 L826 635.65 L827 635.73 L828 635.81 L829 635.9 L830 635.98 L831 636.06 L832 636.14 L833 636.22 L834 636.3 L835 636.39 L836 636.47 L837 636.55 L838 636.63 L839 636.71 L840 636.79 L841 636.88 L842 636.96 L843 637.04 L844 637.12 L845 637.2 L846 637.28 L847 637.36 L848 637.44 L849 637.52 L850 637.6 L851 637.69 L852 637.77 L853 637.85 L854 637.93 L855 638.01 L856 638.09 L857 638.17 L858 638.25 L859 638.33 L860 638.41 L861 638.49 L862 638.57 L863 638.65 L864 638.73 L865 638.81 L866 638.89 L867 638.97 L868 639.05 L869 639.13 L870 639.21 L871 639.29 L872 639.37 L873 639.45 L874 639.53 L875 639.61 L876 639.69 L877 639.77 L878 639.85 L879 639.92 L880 640 L881 640.08 L882 640.16 L883 640.24 L884 640.32 L885 640.4 L886 640.48 L887 640.56 L888 640.64 L889 640.72 L890 640.8 L891 640.88 L892 640.96 L893 641.04 L894 641.12 L895 641.2 L896 641.28 L897 641.36 L898 641.44 L899 641.52 L900 641.59 L901 641.67 L902 641.75 L903 641.83 L904 641.91 L905 641.99 L906 642.07 L907 642.15 L908 642.23 L909 642.31 L910 642.39 L911 642.47 L912 642.54 L912.7 642.6" fill="none" stroke="#ff00ff" stroke-width="4.8" stroke-linejoin="round"/>
<g fill="#ff00ff">
<path d="M125 599.38 L135 581.88 L115 581.88Z"/>
<path d="M170 599.38 L180 581.88 L160 581.88Z"/>
<path d="M215 599.38 L225 581.88 L205 581.88Z"/>
<path d="M260 599.38 L270 581.88 L250 581.88Z"/>
<path d="M305 601.07 L315 583.57 L295 583.57Z"/>
<path d="M350 604.17 L360 586.67 L340 586.67Z"/>
<path d="M395 608.77 L405 591.27 L385 591.27Z"/>
<path d="M440 612.17 L450 594.67 L430 594.67Z"/>
<path d="M485 616.97 L495 599.47 L475 599.47Z"/>
<path d="M530 621.27 L540 603.77 L520 603.77Z"/>
<path d="M575 625.57 L585 608.07 L565 608.07Z"/>
<path d="M620 629.77 L630 612.27 L610 612.27Z"/>
<path d="M665 633.87 L675 616.37 L655 616.37Z"/>
<path d="M710 637.67 L720 620.17 L700 620.17Z"/>
<path d="M755 641.47 L765 623.97 L745 623.97Z"/>
<path d="M800 645.27 L810 627.77 L790 627.77Z"/>
<path d="M845 648.97 L855 631.47 L835 631.47Z"/>
<path d="M890 652.57 L900 635.07 L880 635.07Z"/>
</g>
<path d="M125 50.6 L126 50.6 L127 50.6 L128 50.6 L129 50.6 L130 50.6 L131 50.6 L132 50.6 L133 50.6 L134 50.6 L135 50.6 L136 50.6 L137 50.6 L138 50.6 L139 50.6 L140 50.6 L141 50.6 L142 50.6 L143 50.6 L144 50.6 L145 50.6 L146 50.6 L147 50.6 L148 50.6 L149 50.6 L150 50.6 L151 50.6 L152 50.6 L153 50.6 L154 50.6 L155 50.6 L156 50.6 L157 50.6 L158 50.6 L159 50.6 L160 50.6 L161 50.6 L162 50.6 L163 50.6 L164 50.6 L165 50.6 L166 50.6 L167 50.6 L168 50.6 L169 50.6 L170 50.6 L171 50.6 L172 50.6 L173 50.6 L174 50.6 L175 50.6 L176 50.6 L177 50.6 L178 50.6 L179 50.6 L180 50.6 L181 50.6 L182 50.6 L183 50.6 L184 50.6 L185 50.6 L186 50.6 L187 50.6 L188 50.6 L189 50.6 L190 50.6 L191 50.6 L192 50.6 L193 50.6 L194 50.6 L195 50.6 L196 50.6 L197 50.6 L198 50.6 L199 50.6 L200 50.6 L201 50.6 L202 50.6 L203 50.6 L204 50.6 L205 50.6 L206 50.6 L207 50.6 L208 50.6 L209 50.6 L210 50.6 L211 50.6 L212 50.6 L213 50.6 L214 50.6 L215 50.6 L216 50.6 L217 50.6 L218 50.6 L219 50.6 L220 50.6 L221 50.6 L222 50.6 L223 50.6 L224 50.6 L225 50.6 L226 50.6 L227 50.6 L228 50.6 L229 50.6 L230 50.6 L231 50.6 L232 50.6 L233 50.6 L234 50.6 L235 50.6 L236 50.6 L237 50.6 L238 50.6 L239 50.6 L240 50.6 L241 50.6 L242 50.6 L243 50.6 L244 50.6 L245 50.6 L246 50.6 L247 50.6 L248 50.6 L249 50.6 L250 50.6 L251 50.6 L252 50.6 L253 50.6 L254 50.6 L255 50.6 L256 50.6 L257 50.6 L258 50.6 L259 50.6 L259.6 50.6 L260 50.6 L261 50.6 L262 50.6 L263 50.6 L264 50.6 L265 50.6 L266 50.6 L267 50.6 L268 51.77 L269 52.9 L270 54 L271 55.06 L272 56.09 L273 57.1 L273.5 57.6 L274 58.1 L275 59.09 L276 60.07 L277 61.01 L277.9 61.8 L278 61.89 L279 62.73 L280 63.56 L281 64.36 L282 65.15 L283 65.9 L284 66.63 L285 67.32 L286 67.97 L286.7 68.4 L287 68.58 L288 69.17 L289 69.74 L290 70.28 L291 70.81 L292 71.31 L293 71.78 L294 72.21 L295 72.61 L295.5 72.8 L296 72.98 L297 73.31 L298 73.62 L299 73.92 L300 74.19 L301 74.46 L302 74.72 L303 74.97 L304 75.23 L305 75.5 L306 75.77 L307 76.04 L308 76.31 L309 76.58 L310 76.84 L311 77.11 L312 77.37 L313 77.62 L314 77.88 L315 78.13 L315.7 78.3 L316 78.37 L317 78.62 L318 78.87 L319 79.12 L320 79.37 L321 79.62 L322 79.86 L323 80.1 L324 80.33 L325 80.55 L326 80.76 L327 80.96 L328 81.15 L328.3 81.2 L329 81.32 L330 81.49 L331 81.65 L332 81.81 L333 81.97 L334 82.11 L335 82.26 L336 82.39 L337 82.53 L338 82.65 L339 82.77 L340 82.89 L341 83 L342 83.1 L343 83.2 L344 83.29 L345 83.37 L346 83.45 L347 83.54 L348 83.62 L349 83.71 L350 83.8 L351 83.9 L352 83.99 L353 84.09 L354 84.2 L355 84.3 L356 84.4 L357 84.51 L358 84.62 L359 84.72 L360 84.83 L361 84.94 L362 85.05 L363 85.17 L364 85.28 L365 85.39 L366 85.51 L367 85.62 L368 85.73 L369 85.85 L370 85.96 L371 86.08 L372 86.2 L373 86.31 L374 86.43 L375 86.54 L376 86.66 L377 86.77 L378 86.89 L379 87 L380 87.11 L381 87.23 L382 87.34 L383 87.45 L384 87.56 L385 87.67 L386 87.78 L387 87.89 L388 87.99 L389 88.1 L390 88.2 L391 88.31 L392 88.41 L393 88.51 L394 88.6 L395 88.7 L396 88.79 L397 88.89 L398 88.98 L399 89.07 L400 89.17 L401 89.26 L402 89.35 L403 89.44 L404 89.53 L405 89.62 L406 89.71 L407 89.79 L408 89.88 L409 89.97 L410 90.05 L411 90.14 L412 90.22 L413 90.31 L414 90.39 L415 90.48 L416 90.56 L417 90.64 L418 90.73 L419 90.81 L420 90.89 L421 90.97 L422 91.06 L423 91.14 L424 91.22 L425 91.3 L426 91.38 L427 91.46 L428 91.54 L429 91.62 L430 91.7 L431 91.78 L432 91.86 L433 91.94 L434 92.02 L435 92.1 L436 92.18 L437 92.26 L438 92.34 L439 92.42 L440 92.5 L441 92.58 L442 92.66 L443 92.74 L444 92.82 L445 92.89 L446 92.97 L447 93.05 L448 93.12 L449 93.2 L450 93.28 L451 93.35 L452 93.43 L453 93.5 L454 93.58 L455 93.65 L456 93.73 L457 93.8 L458 93.88 L459 93.95 L460 94.03 L461 94.1 L462 94.17 L463 94.25 L464 94.32 L465 94.4 L466 94.47 L467 94.54 L468 94.62 L469 94.69 L470 94.77 L471 94.84 L472 94.91 L473 94.99 L474 95.06 L475 95.14 L476 95.21 L477 95.29 L478 95.36 L479 95.44 L480 95.52 L481 95.59 L482 95.67 L483 95.75 L484 95.82 L485 95.9 L486 95.98 L487 96.06 L488 96.13 L489 96.21 L490 96.29 L491 96.37 L492 96.45 L493 96.53 L494 96.61 L495 96.69 L496 96.77 L497 96.85 L498 96.93 L499 97.01 L500 97.09 L501 97.17 L502 97.25 L503 97.34 L504 97.42 L505 97.5 L506 97.58 L507 97.66 L508 97.74 L509 97.82 L510 97.9 L511 97.98 L512 98.06 L513 98.15 L514 98.23 L515 98.31 L516 98.39 L517 98.47 L518 98.55 L519 98.63 L520 98.71 L521 98.79 L522 98.87 L523 98.95 L524 99.03 L525 99.11 L526 99.19 L527 99.27 L528 99.34 L529 99.42 L530 99.5 L531 99.58 L532 99.65 L533 99.73 L534 99.81 L535 99.89 L536 99.96 L537 100.04 L538 100.11 L539 100.19 L540 100.26 L541 100.34 L542 100.42 L543 100.49 L544 100.57 L545 100.64 L546 100.72 L547 100.79 L548 100.86 L549 100.94 L550 101.01 L551 101.09 L552 101.16 L553 101.24 L554 101.31 L555 101.39 L556 101.46 L557 101.54 L558 101.61 L559 101.68 L560 101.76 L561 101.83 L562 101.91 L563 101.98 L564 102.06 L565 102.14 L566 102.21 L567 102.29 L568 102.36 L569 102.44 L570 102.51 L571 102.59 L572 102.67 L573 102.75 L574 102.82 L575 102.9 L576 102.98 L577 103.06 L578 103.13 L579 103.21 L580 103.29 L581 103.37 L582 103.45 L583 103.53 L584 103.61 L585 103.68 L586 103.76 L587 103.84 L588 103.92 L589 104 L590 104.08 L591 104.16 L592 104.24 L593 104.32 L594 104.4 L595 104.48 L596 104.56 L597 104.64 L598 104.72 L599 104.8 L600 104.88 L601 104.96 L602 105.04 L603 105.12 L604 105.2 L605 105.29 L606 105.37 L607 105.45 L608 105.53 L609 105.61 L610 105.69 L611 105.77 L612 105.85 L613 105.93 L614 106.01 L615 106.09 L616 106.18 L617 106.26 L618 106.34 L619 106.42 L620 106.5 L621 106.58 L622 106.66 L623 106.74 L624 106.83 L625 106.91 L626 106.99 L627 107.07 L628 107.15 L629 107.24 L630 107.32 L631 107.4 L632 107.48 L633 107.56 L634 107.65 L635 107.73 L636 107.81 L637 107.89 L638 107.98 L639 108.06 L640 108.14 L641 108.23 L642 108.31 L643 108.39 L644 108.47 L645 108.56 L646 108.64 L647 108.72 L648 108.81 L649 108.89 L650 108.97 L651 109.05 L652 109.14 L653 109.22 L654 109.3 L655 109.38 L656 109.46 L657 109.55 L658 109.63 L659 109.71 L660 109.79 L661 109.87 L662 109.96 L663 110.04 L664 110.12 L665 110.2 L666 110.28 L667 110.36 L668 110.44 L669 110.52 L670 110.6 L671 110.69 L672 110.77 L673 110.85 L674 110.93 L675 111.01 L676 111.09 L677 111.17 L678 111.25 L679 111.33 L680 111.41 L681 111.49 L682 111.57 L683 111.65 L684 111.73 L685 111.81 L686 111.89 L687 111.97 L688 112.05 L689 112.13 L690 112.21 L691 112.29 L692 112.37 L693 112.45 L694 112.53 L695 112.61 L696 112.69 L697 112.77 L698 112.85 L699 112.93 L700 113.01 L701 113.09 L702 113.17 L703 113.25 L704 113.33 L705 113.4 L706 113.48 L707 113.56 L708 113.64 L709 113.72 L710 113.8 L711 113.88 L712 113.96 L713 114.04 L714 114.11 L715 114.19 L716 114.27 L717 114.35 L718 114.43 L719 114.51 L720 114.58 L721 114.66 L722 114.74 L723 114.82 L724 114.9 L725 114.97 L726 115.05 L727 115.13 L728 115.21 L729 115.28 L730 115.36 L731 115.44 L732 115.52 L733 115.59 L734 115.67 L735 115.75 L736 115.83 L737 115.9 L738 115.98 L739 116.06 L740 116.14 L741 116.21 L742 116.29 L743 116.37 L744 116.45 L745 116.52 L746 116.6 L747 116.68 L748 116.76 L749 116.83 L750 116.91 L751 116.99 L752 117.07 L753 117.14 L754 117.22 L755 117.3 L756 117.38 L757 117.46 L758 117.53 L759 117.61 L760 117.69 L761 117.77 L762 117.85 L763 117.92 L764 118 L765 118.08 L766 118.16 L767 118.24 L768 118.31 L769 118.39 L770 118.47 L771 118.55 L772 118.63 L773 118.7 L774 118.78 L775 118.86 L776 118.94 L777 119.02 L778 119.1 L779 119.17 L780 119.25 L781 119.33 L782 119.41 L783 119.49 L784 119.56 L785 119.64 L786 119.72 L787 119.8 L788 119.87 L789 119.95 L790 120.03 L791 120.11 L792 120.18 L793 120.26 L794 120.34 L795 120.42 L796 120.49 L797 120.57 L798 120.65 L799 120.72 L800 120.8 L801 120.88 L802 120.95 L803 121.03 L804 121.11 L805 121.18 L806 121.26 L807 121.33 L808 121.41 L809 121.49 L810 121.56 L811 121.64 L812 121.71 L813 121.79 L814 121.87 L815 121.94 L816 122.02 L817 122.09 L818 122.17 L819 122.24 L820 122.32 L821 122.39 L822 122.47 L823 122.54 L824 122.62 L825 122.69 L826 122.77 L827 122.84 L828 122.92 L829 123 L830 123.07 L831 123.15 L832 123.22 L833 123.3 L834 123.37 L835 123.45 L836 123.52 L837 123.6 L838 123.67 L839 123.75 L840 123.82 L841 123.9 L842 123.97 L843 124.05 L844 124.12 L845 124.2 L846 124.28 L847 124.35 L848 124.43 L849 124.5 L850 124.58 L851 124.65 L852 124.73 L853 124.8 L854 124.88 L855 124.95 L856 125.03 L857 125.1 L858 125.18 L859 125.25 L860 125.33 L861 125.4 L862 125.48 L863 125.55 L864 125.63 L865 125.7 L866 125.78 L867 125.85 L868 125.93 L869 126 L870 126.08 L871 126.15 L872 126.23 L873 126.3 L874 126.38 L875 126.45 L876 126.53 L877 126.6 L878 126.68 L879 126.76 L880 126.83 L881 126.91 L882 126.98 L883 127.06 L884 127.14 L885 127.21 L886 127.29 L887 127.37 L888 127.45 L889 127.52 L890 127.6 L891 127.68 L892 127.76 L893 127.83 L894 127.91 L895 127.99 L896 128.07 L897 128.15 L898 128.23 L899 128.31 L900 128.38 L901 128.46 L902 128.54 L903 128.62 L904 128.7 L905 128.78 L906 128.86 L907 128.94 L908 129.02 L909 129.1 L910 129.18 L911 129.26 L912 129.34 L912.7 129.4" fill="none" stroke="#008000" stroke-width="4.8" stroke-linejoin="round"/>
<g fill="#008000">
<path d="M125 41.1 L135.4 51.5 L125 61.9 L114.6 51.5Z"/>
<path d="M170 40.2 L180.4 50.6 L170 61 L159.6 50.6Z"/>
<path d="M215 40.2 L225.4 50.6 L215 61 L204.6 50.6Z"/>
<path d="M260 40.2 L270.4 50.6 L260 61 L249.6 50.6Z"/>
<path d="M305 65.1 L315.4 75.5 L305 85.9 L294.6 75.5Z"/>
<path d="M350 73.4 L360.4 83.8 L350 94.2 L339.6 83.8Z"/>
<path d="M395 78.3 L405.4 88.7 L395 99.1 L384.6 88.7Z"/>
<path d="M440 82.1 L450.4 92.5 L440 102.9 L429.6 92.5Z"/>
<path d="M485 85.5 L495.4 95.9 L485 106.3 L474.6 95.9Z"/>
<path d="M530 89.1 L540.4 99.5 L530 109.9 L519.6 99.5Z"/>
<path d="M575 92.5 L585.4 102.9 L575 113.3 L564.6 102.9Z"/>
<path d="M620 96.1 L630.4 106.5 L620 116.9 L609.6 106.5Z"/>
<path d="M665 99.8 L675.4 110.2 L665 120.6 L654.6 110.2Z"/>
<path d="M710 103.4 L720.4 113.8 L710 124.2 L699.6 113.8Z"/>
<path d="M755 106.9 L765.4 117.3 L755 127.7 L744.6 117.3Z"/>
<path d="M800 110.4 L810.4 120.8 L800 131.2 L789.6 120.8Z"/>
<path d="M845 113.8 L855.4 124.2 L845 134.6 L834.6 124.2Z"/>
<path d="M890 117.2 L900.4 127.6 L890 138 L879.6 127.6Z"/>
</g>
</g>
<line x1="267.8" y1="0" x2="267.8" y2="665.85" stroke="#000" stroke-width="3.5"/>
<line x1="702" y1="252.35" x2="780.5" y2="252.35" stroke="#000000" stroke-width="4.8"/>
<g fill="#000000"><rect x="733.8" y="244.7" width="14.6" height="14.6"/></g>
<text x="789.5" y="264.3" font-family='"Liberation Serif", "Times New Roman", Times, serif' font-size="34.5" font-weight="bold" fill="#000">elastic</text>
<line x1="702" y1="295.65" x2="780.5" y2="295.65" stroke="#ff0000" stroke-width="4.8"/>
<g fill="#ff0000"><circle cx="741.1" cy="295.3" r="8.45"/></g>
<text x="789.5" y="307.6" font-family='"Liberation Serif", "Times New Roman", Times, serif' font-size="34.5" font-weight="bold" fill="#000">thermal</text>
<line x1="702" y1="338.85" x2="780.5" y2="338.85" stroke="#0000ff" stroke-width="4.8"/>
<g fill="#0000ff"><path d="M741.1 326.93 L751.1 344.73 L731.1 344.73Z"/></g>
<text x="789.5" y="350.8" font-family='"Liberation Serif", "Times New Roman", Times, serif' font-size="34.5" font-weight="bold" fill="#000">swelling</text>
<line x1="702" y1="382.05" x2="780.5" y2="382.05" stroke="#ff00ff" stroke-width="4.8"/>
<g fill="#ff00ff"><path d="M741.1 393.47 L751.1 375.97 L731.1 375.97Z"/></g>
<text x="789.5" y="394" font-family='"Liberation Serif", "Times New Roman", Times, serif' font-size="34.5" font-weight="bold" fill="#000">creep</text>
<line x1="702" y1="425.55" x2="780.5" y2="425.55" stroke="#008000" stroke-width="4.8"/>
<g fill="#008000"><path d="M741.1 414.8 L751.5 425.2 L741.1 435.6 L730.7 425.2Z"/></g>
<text x="789.5" y="437.5" font-family='"Liberation Serif", "Times New Roman", Times, serif' font-size="34.5" font-weight="bold" fill="#000">total</text>
<g font-family='"Liberation Serif", "Times New Roman", Times, serif' font-size="27.8" fill="#000">
<text x="110.3" y="47.9" text-anchor="end">0.007</text>
<text x="110.3" y="126.13" text-anchor="end">0.006</text>
<text x="110.3" y="204.36" text-anchor="end">0.005</text>
<text x="110.3" y="282.59" text-anchor="end">0.004</text>
<text x="110.3" y="360.82" text-anchor="end">0.003</text>
<text x="110.3" y="439.05" text-anchor="end">0.002</text>
<text x="110.3" y="517.28" text-anchor="end">0.001</text>
<text x="110.3" y="595.51" text-anchor="end">0.000</text>
<text x="110.3" y="673.74" text-anchor="end">-0.001</text>
<text x="125" y="701.4" text-anchor="middle">0</text>
<text x="275" y="701.4" text-anchor="middle">200</text>
<text x="425" y="701.4" text-anchor="middle">400</text>
<text x="575" y="701.4" text-anchor="middle">600</text>
<text x="725" y="701.4" text-anchor="middle">800</text>
<text x="875" y="701.4" text-anchor="middle">1000</text>
</g>
<g font-family='"Liberation Serif", "Times New Roman", Times, serif' font-size="34.5" font-weight="bold" fill="#000">
<text x="537.5" y="756.9" text-anchor="middle" font-size="34.6">Equivalent Full Power Days</text>
<text transform="translate(23.6 332.6) rotate(-90)" text-anchor="middle" font-size="34.1">Radial strain</text>
<text x="279.6" y="484.3">contact</text>
</g>
</svg>
</body>
</html>
